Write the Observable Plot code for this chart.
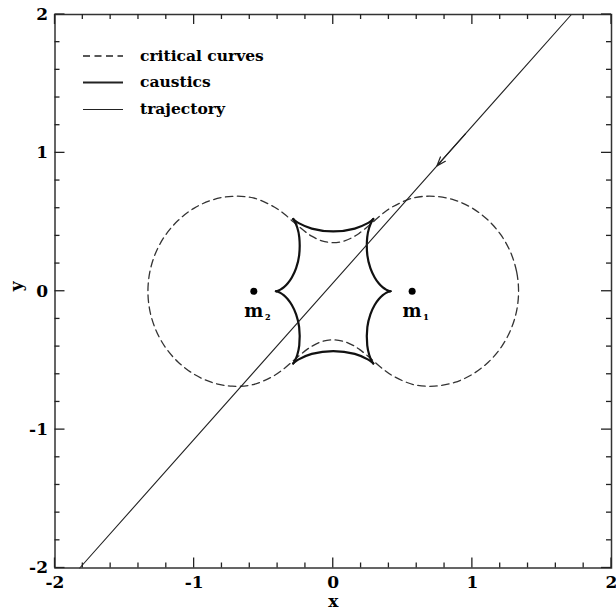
<!DOCTYPE html>
<html>
<head>
<meta charset="utf-8">
<script src="https://cdn.jsdelivr.net/npm/d3@7"></script>
<script src="https://cdn.jsdelivr.net/npm/@observablehq/plot@0.6"></script>
<style>
  html, body { margin: 0; padding: 0; background: #fff; }
  #wrap { position: relative; width: 616px; height: 613px; }
  #overlay { position: absolute; left: 0; top: 0; pointer-events: none; }
</style>
</head>
<body>
<div id="wrap"></div>
<script>
// ---- data ----
const majorTicks = [-2, -1, 0, 1, 2];
const tickLabels = ["-2", "-1", "0", "1", "2"];
const minorTicks = [-1.8, -1.6, -1.4, -1.2, -0.8, -0.6, -0.4, -0.2, 0.2, 0.4, 0.6, 0.8, 1.2, 1.4, 1.6, 1.8];

// critical curve (closed, dashed)
const critX = [
  1.332, 1.318, 1.276, 1.208, 1.116, 1.002, 0.872, 0.727, 0.575, 0.424, 0.352, 0.285, 0.242, 0.188, 0.155, 0.082, 0,
  -0.082, -0.155, -0.188, -0.242, -0.285, -0.352, -0.424, -0.575, -0.727, -0.872, -1.002, -1.116, -1.208, -1.276, -1.318, -1.332,
  -1.318, -1.276, -1.208, -1.116, -1.002, -0.872, -0.727, -0.575, -0.424, -0.352, -0.285, -0.242, -0.188, -0.155, -0.082, 0,
  0.082, 0.155, 0.188, 0.242, 0.285, 0.352, 0.424, 0.575, 0.727, 0.872, 1.002, 1.116, 1.208, 1.276, 1.318
];
const critY = [
  0, 0.141, 0.278, 0.403, 0.511, 0.599, 0.659, 0.686, 0.674, 0.609, 0.558, 0.500, 0.463, 0.420, 0.398, 0.364, 0.351,
  0.364, 0.398, 0.420, 0.463, 0.500, 0.558, 0.609, 0.674, 0.686, 0.659, 0.599, 0.511, 0.403, 0.278, 0.141, 0,
  -0.141, -0.278, -0.403, -0.511, -0.599, -0.659, -0.686, -0.674, -0.609, -0.558, -0.500, -0.463, -0.420, -0.398, -0.364, -0.351,
  -0.364, -0.398, -0.420, -0.463, -0.500, -0.558, -0.609, -0.674, -0.686, -0.659, -0.599, -0.511, -0.403, -0.278, -0.141
];

// caustic: six folds between the six cusps
const causticX = [
  [0.4125, 0.4087, 0.3977, 0.3799, 0.3563, 0.3282, 0.2977, 0.2669, 0.2451, 0.2443, 0.2588, 0.2794, 0.288],
  [0.288, 0.276, 0.2517, 0.1545, 0, -0.1545, -0.2517, -0.276, -0.288],
  [-0.288, -0.2794, -0.2588, -0.2443, -0.2451, -0.2669, -0.2977, -0.3282, -0.3563, -0.3799, -0.3977, -0.4087, -0.4125],
  [-0.4125, -0.4087, -0.3977, -0.3799, -0.3563, -0.3282, -0.2977, -0.2669, -0.2451, -0.2443, -0.2588, -0.2794, -0.288],
  [-0.288, -0.276, -0.2517, -0.1545, 0, 0.1545, 0.2517, 0.276, 0.288],
  [0.288, 0.2794, 0.2588, 0.2443, 0.2451, 0.2669, 0.2977, 0.3282, 0.3563, 0.3799, 0.3977, 0.4087, 0.4125]
];
const causticY = [
  [0, -0.0003, -0.0033, -0.0117, -0.0280, -0.0558, -0.0993, -0.1669, -0.2596, -0.3913, -0.4604, -0.5096, -0.522],
  [-0.522, -0.5109, -0.4942, -0.4530, -0.4321, -0.4530, -0.4942, -0.5109, -0.522],
  [-0.522, -0.5096, -0.4604, -0.3913, -0.2596, -0.1669, -0.0993, -0.0558, -0.0280, -0.0117, -0.0033, -0.0003, 0],
  [0, 0.0003, 0.0033, 0.0117, 0.0280, 0.0558, 0.0993, 0.1669, 0.2596, 0.3913, 0.4604, 0.5096, 0.522],
  [0.522, 0.5109, 0.4942, 0.4530, 0.4321, 0.4530, 0.4942, 0.5109, 0.522],
  [0.522, 0.5096, 0.4604, 0.3913, 0.2596, 0.1669, 0.0993, 0.0558, 0.0280, 0.0117, 0.0033, 0.0003, 0]
];

// source trajectory and its direction arrow
const trajX = [-1.822, 1.712];
const trajY = [-2, 2];
const arrowFrom = [0.95, 1.138];
const arrowTo = [0.745, 0.906];

// lens masses
const massX = [0.567, -0.571];
const massY = [0, 0];
const massName = ["m", "m"];
const massSub = ["\u2081", "\u2082"];

// legend
const legendLabels = ["critical curves", "caustics", "trajectory"];
const legendDash = ["7,4.5", null, null];
const legendWidth = [1.3, 2.2, 1.1];

(function () {
  const critical = critX.map((x, i) => ({x, y: critY[i]}));
  const caustic = causticX.flatMap((xs, f) => xs.map((x, i) => ({x, y: causticY[f][i], fold: f})));
  const trajectory = trajX.map((x, i) => ({x, y: trajY[i]}));
  const masses = massX.map((x, i) => ({x, y: massY[i], name: massName[i], sub: massSub[i]}));

  const FONT = "DejaVu Serif";
  const W = 616, H = 613, ML = 54.5, MR = 5, MT = 14, MB = 45.5;
  const XMIN = -2, XMAX = 2, YMIN = -2, YMAX = 2;
  const MAJ = 10, MIN = 5;

  const chart = Plot.plot({
    width: W,
    height: H,
    marginLeft: ML,
    marginRight: MR,
    marginTop: MT,
    marginBottom: MB,
    x: {domain: [XMIN, XMAX]},
    y: {domain: [YMIN, YMAX]},
    style: {fontFamily: FONT, fontWeight: "bold", fontSize: "17px", color: "#000", background: "#fff"},
    marks: [
      Plot.axisX({anchor: "bottom", ticks: majorTicks, tickSize: 0, tickPadding: 8, tickFormat: (d, i) => tickLabels[i], label: null}),
      Plot.axisY({anchor: "left", ticks: majorTicks, tickSize: 0, tickPadding: 7, tickFormat: (d, i) => tickLabels[i], label: null}),
      Plot.text(["x"], {frameAnchor: "bottom", dy: 34, lineAnchor: "middle", fontSize: 17}),
      Plot.text(["y"], {frameAnchor: "left", dx: -38, rotate: -90, lineAnchor: "middle", fontSize: 17}),
      Plot.line(critical, {x: "x", y: "y", curve: "catmull-rom-closed", stroke: "#333", strokeWidth: 1.3, strokeDasharray: "7.5,4.5"}),
      Plot.line(caustic, {x: "x", y: "y", z: "fold", curve: "catmull-rom", stroke: "#111", strokeWidth: 2.2, strokeLinecap: "round"}),
      Plot.line(trajectory, {x: "x", y: "y", stroke: "#222", strokeWidth: 1.1}),
      Plot.arrow([0], {x1: () => arrowFrom[0], y1: () => arrowFrom[1], x2: () => arrowTo[0], y2: () => arrowTo[1], stroke: "#222", strokeWidth: 1.2, headLength: 12, headAngle: 40}),
      Plot.dot(masses, {x: "x", y: "y", r: 3.5, fill: "#000"}),
      Plot.text(masses, {x: "x", y: "y", text: "name", dy: 20, lineAnchor: "middle", fontSize: 18}),
      Plot.text(masses, {x: "x", y: "y", text: "sub", dx: 14, dy: 25, lineAnchor: "middle", fontSize: 13}),
      Plot.frame({stroke: "#333", strokeWidth: 1.5})
    ]
  });

  const wrap = document.getElementById("wrap");
  wrap.appendChild(chart);

  // overlay: inward ticks (through the chart's x/y scales) and the legend
  const ov = d3.select(wrap).append("svg")
    .attr("id", "overlay").attr("width", W).attr("height", H)
    .attr("font-family", FONT).attr("font-weight", "bold").attr("font-size", 15.5);

  let sx = null, sy = null;
  try { sx = chart.scale("x"); sy = chart.scale("y"); } catch (e) {}
  const linX = d3.scaleLinear([XMIN, XMAX], [ML, W - MR]);
  const linY = d3.scaleLinear([YMIN, YMAX], [H - MB, MT]);
  const px = v => { const p = sx && sx.apply ? +sx.apply(v) : NaN; return Number.isFinite(p) ? p : linX(v); };
  const py = v => { const p = sy && sy.apply ? +sy.apply(v) : NaN; return Number.isFinite(p) ? p : linY(v); };
  const fL = px(XMIN), fR = px(XMAX), fT = py(YMAX), fB = py(YMIN);

  const segs = [];
  [[majorTicks, MAJ], [minorTicks, MIN]].forEach(([vals, len]) => {
    vals.forEach(v => {
      const X = px(v), Y = py(v);
      segs.push([X, fB, X, fB - len], [X, fT, X, fT + len], [fL, Y, fL + len, Y], [fR, Y, fR - len, Y]);
    });
  });
  ov.append("g").selectAll("line").data(segs).join("line")
    .attr("x1", d => d[0]).attr("y1", d => d[1]).attr("x2", d => d[2]).attr("y2", d => d[3])
    .attr("stroke", "#222").attr("stroke-width", 1.3);

  const rowY = [56, 82.5, 109.5];
  legendLabels.forEach((lab, i) => {
    const g = ov.append("g");
    g.append("line").attr("x1", 83).attr("x2", 123).attr("y1", rowY[i]).attr("y2", rowY[i])
      .attr("stroke", "#222").attr("stroke-width", legendWidth[i])
      .attr("stroke-dasharray", legendDash[i]);
    g.append("text").attr("x", 140).attr("y", rowY[i]).attr("dy", "0.32em").text(lab);
  });
})();
</script>
</body>
</html>
